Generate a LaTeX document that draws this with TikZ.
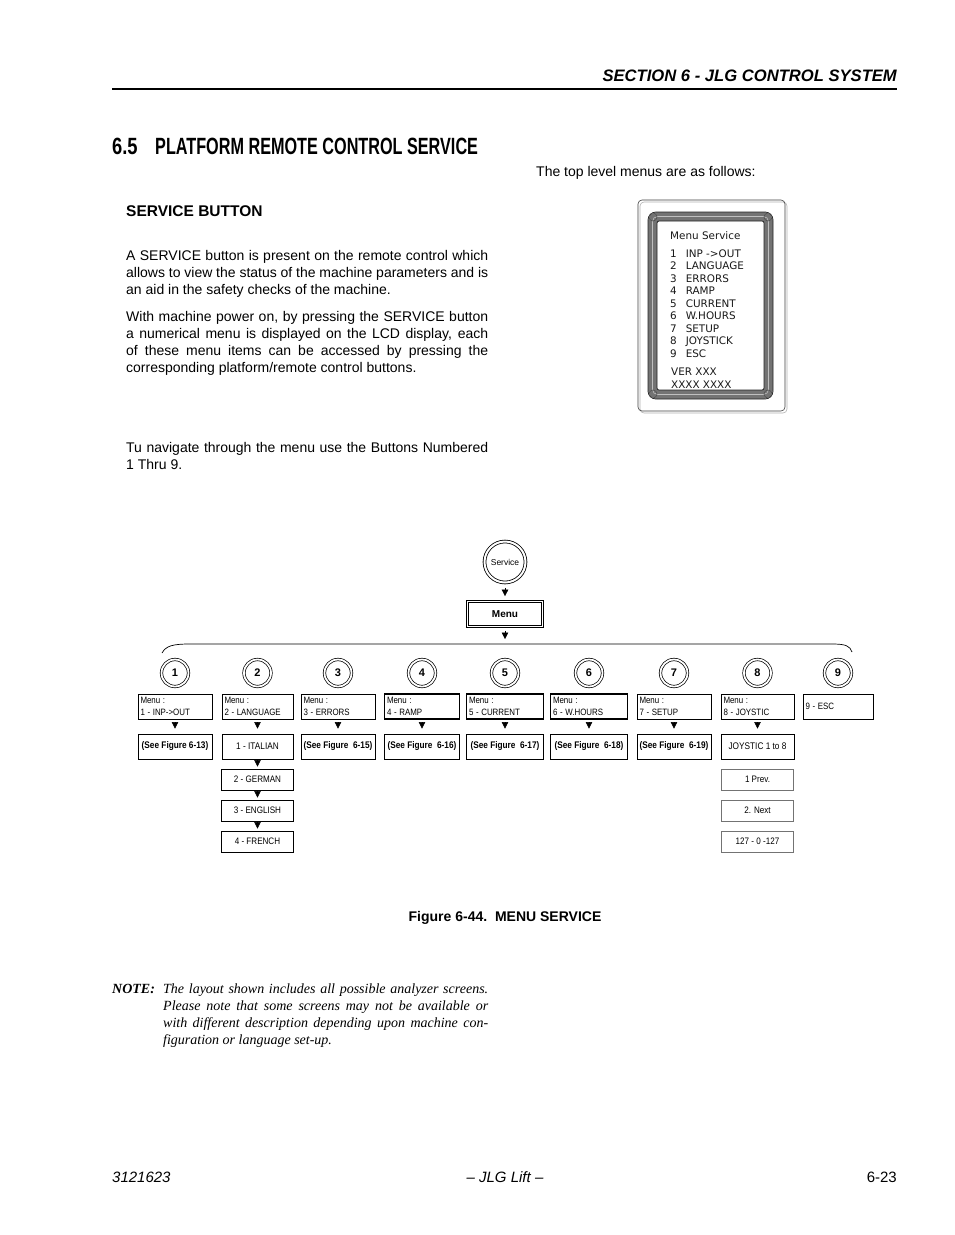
\documentclass[tikz,border=0pt]{standalone}
\usepackage{fontspec}
\setmainfont{Liberation Sans}
\newfontfamily\notefont{Liberation Serif}
\newfontfamily\lcdfont{DejaVu Sans}
\usepackage{graphicx}
\usetikzlibrary{arrows.meta}

\newcommand{\fs}[2]{\fontsize{#1}{#2}\selectfont}
\newcommand{\nar}[1]{\scalebox{0.86}[1]{#1}}
\newcommand{\jst}[1]{\makebox[362pt][s]{#1}}
\newcommand{\njst}[1]{\makebox[325pt][s]{#1}}

\tikzset{
  txt/.style={anchor=base west, inner sep=0pt, font=\fs{14}{17}},
  lcd/.style={anchor=base west, inner sep=0pt, font=\lcdfont\fs{10.4}{12}, text=black!90},
  svc/.style={circle, draw, double, double distance=2pt, line width=0.8pt, minimum size=41pt, inner sep=0pt, font=\fs{8.5}{10}},
  menubox/.style={draw, double, double distance=1.4pt, line width=0.7pt, minimum width=75pt, minimum height=25pt, inner sep=0pt, font=\fs{10}{12}\bfseries},
  btn/.style={circle, draw, double, double distance=1.8pt, line width=0.7pt, minimum size=27pt, inner sep=0pt, font=\fs{11}{13}\bfseries},
  mbox/.style={draw, line width=0.7pt, minimum height=25pt, inner xsep=2pt, inner ysep=0pt, align=left, font=\fs{9.2}{12}},
  mthin/.style={},
  mthick/.style={line width=1.5pt},
  sbox/.style={draw, line width=0.8pt, minimum height=25pt, inner sep=0pt, font=\fs{9.6}{12}},
  lbox/.style={draw, line width=0.8pt, minimum width=72pt, minimum height=21pt, inner sep=0pt, font=\fs{9.4}{12}},
  gbox/.style={draw=black!55},
  tri/.style={-{Triangle[length=6.5pt,width=6.5pt]}, line width=0.5pt},
}

\begin{document}
\begin{tikzpicture}[x=1pt, y=-1pt]
  \useasboundingbox[fill=white] (0,0) rectangle (954,1235);

  % page head
  \node[txt, anchor=base east, font=\fs{16.6}{20}\bfseries\itshape] (head) at (897,81) {SECTION 6 - JLG CONTROL SYSTEM};
  \coordinate (ruleL) at (112,89);
  \coordinate (ruleR) at (897,89);
  \draw[line width=1.2pt] (ruleL) -- (ruleR);

  % section title
  \node[txt, font=\fs{23.5}{26}\bfseries] (secno) at (112,154) {\scalebox{0.78}[1]{6.5}};
  \node[txt, font=\fs{23.5}{26}\bfseries] (sectitle) at (155,154) {\scalebox{0.69}[1]{PLATFORM REMOTE CONTROL SERVICE}};

  % left column
  \node[txt, font=\fs{15.5}{18}\bfseries] (sbtitle) at (126,216) {SERVICE BUTTON};
  \node[txt] (p1a) at (126,260) {\jst{A SERVICE button is present on the remote control which}};
  \node[txt] (p1b) at (126,277) {\jst{allows to view the status of the machine parameters and is}};
  \node[txt] (p1c) at (126,294) {an aid in the safety checks of the machine.};
  \node[txt] (p2a) at (126,321) {\jst{With machine power on, by pressing the SERVICE button}};
  \node[txt] (p2b) at (126,338) {\jst{a numerical menu is displayed on the LCD display, each}};
  \node[txt] (p2c) at (126,355) {\jst{of these menu items can be accessed by pressing the}};
  \node[txt] (p2d) at (126,372) {corresponding platform/remote control buttons.};
  \node[txt] (p3a) at (126,452) {\jst{Tu navigate through the menu use the Buttons Numbered}};
  \node[txt] (p3b) at (126,469) {1 Thru 9.};

  % right column
  \node[txt] (top) at (536,176) {The top level menus are as follows:};

  % lcd picture
  \draw[black!30, line width=0.6pt, rounded corners=4pt] (640,202) rectangle (787,413);
  \draw[black!75, line width=0.6pt, rounded corners=4pt] (638,200) rectangle (785,411);
  \draw[black!55, line width=9pt, rounded corners=5pt] (652.5,216.5) rectangle (768.5,394.5);
  \draw[black!25, line width=0.6pt, rounded corners=5pt] (652.5,216.5) rectangle (768.5,394.5);
  \draw[black!85, line width=0.8pt, rounded corners=8pt] (648,212) rectangle (773,399);
  \draw[black!85, line width=0.8pt, rounded corners=2pt] (657,221) rectangle (764,390);
  \draw[black!70, line width=0.5pt] (653,217) circle (4pt) (768,217) circle (4pt)
        (653,394) circle (4pt) (768,394) circle (4pt);
  \node[lcd] (lcdhead) at (670,239) {Menu Service};
  \node[lcd] (l1) at (670,257) {1\hspace{9pt}INP ->OUT};
  \node[lcd] (l2) at (670,269.5) {2\hspace{9pt}LANGUAGE};
  \node[lcd] (l3) at (670,282) {3\hspace{9pt}ERRORS};
  \node[lcd] (l4) at (670,294.5) {4\hspace{9pt}RAMP};
  \node[lcd] (l5) at (670,307) {5\hspace{9pt}CURRENT};
  \node[lcd] (l6) at (670,319.5) {6\hspace{9pt}W.HOURS};
  \node[lcd] (l7) at (670,332) {7\hspace{9pt}SETUP};
  \node[lcd] (l8) at (670,344.5) {8\hspace{9pt}JOYSTICK};
  \node[lcd] (l9) at (670,357) {9\hspace{9pt}ESC};
  \node[lcd] (ver) at (671,375) {VER XXX};
  \node[lcd] (vnum) at (671,388) {XXXX XXXX};

  % service tree
  \node[svc] (svc) at (505,562) {Service};
  \node[menubox] (menu) at (505,614) {Menu};
  \draw[tri, shorten <=5pt, shorten >=5pt] (svc) -- (menu);

  \coordinate (brk) at (505,644);     % bracket top
  \coordinate (brkL) at (162,653);
  \coordinate (brkR) at (852,652);
  \draw[tri, shorten <=4pt, shorten >=5pt] (menu) -- (brk);
  \draw[line width=0.7pt] (brkL) .. controls (166,646) and (172,644) .. (190,644)
        -- (832,644) .. controls (846,644) and (850,646) .. (brkR);

  \foreach \n/\x/\w/\bw/\lab/\nxt in {
      1/175/74/mthin/INP->OUT/{\textbf{(See Figure 6-13)}},
      2/257.5/71/mthin/LANGUAGE/{1 - ITALIAN},
      3/338/74/mthin/ERRORS/{\textbf{(See Figure\ \ 6-15)}},
      4/422/75/mthick/RAMP/{\textbf{(See Figure\ \ 6-16)}},
      5/505/77/mthick/CURRENT/{\textbf{(See Figure\ \ 6-17)}},
      6/589/77/mthick/W.HOURS/{\textbf{(See Figure\ \ 6-18)}},
      7/674/74/mthin/SETUP/{\textbf{(See Figure\ \ 6-19)}},
      8/757.5/73/mthin/JOYSTIC/{JOYSTIC 1 to 8}}{
    \pgfmathsetmacro{\tw}{\w-5}
    \node[btn] (b\n) at (\x,673) {\n};
    \node[mbox, \bw, minimum width=\w pt, text width=\tw pt] (m\n) at (\x,706.5) {\nar{Menu :}\\\nar{\n{} - \lab}};
    \node[sbox, minimum width=\w pt] (s\n) at (\x,746.5) {\nar{\nxt}};
    \draw[tri, shorten <=4pt, shorten >=5pt] (m\n) -- (s\n);
  }
  \node[btn] (b9) at (838,673) {9};
  \node[mbox, minimum width=70pt, text width=65pt] (m9) at (838,706.5) {\nar{9 - ESC}};

  % language list
  \node[lbox] (ger) at (257.5,779.5) {\nar{2 - GERMAN}};
  \node[lbox] (eng) at (257.5,810.5) {\nar{3 - ENGLISH}};
  \node[lbox] (fre) at (257.5,841.5) {\nar{4 - FRENCH}};
  \draw[tri, shorten <=2pt, shorten >=2pt] (s2) -- (ger);
  \draw[tri, shorten <=2pt, shorten >=2pt] (ger) -- (eng);
  \draw[tri, shorten <=2pt, shorten >=2pt] (eng) -- (fre);

  % joystick list
  \node[lbox, gbox] (prev) at (757.5,779.5) {\nar{1 Prev.}};
  \node[lbox, gbox] (next) at (757.5,810.5) {\nar{2. Next}};
  \node[lbox, gbox] (range) at (757.5,841.5) {\nar{127 - 0 -127}};

  % caption
  \node[txt, anchor=base, font=\fs{14}{17}\bfseries] (cap) at (505,921) {Figure 6-44.\ \ MENU SERVICE};

  % note
  \node[txt, font=\notefont\fs{14}{17}\bfseries\itshape] (note) at (112,993) {NOTE:};
  \node[txt, font=\notefont\fs{14}{17}\itshape] (n1) at (163,993) {\njst{The layout shown includes all possible analyzer screens.}};
  \node[txt, font=\notefont\fs{14}{17}\itshape] (n2) at (163,1010) {\njst{Please note that some screens may not be available or}};
  \node[txt, font=\notefont\fs{14}{17}\itshape] (n3) at (163,1027) {\njst{with different description depending upon machine con-}};
  \node[txt, font=\notefont\fs{14}{17}\itshape] (n4) at (163,1044) {figuration or language set-up.};

  % page foot
  \node[txt, font=\fs{15}{18}\itshape] (docno) at (112,1182) {3121623};
  \node[txt, anchor=base, font=\fs{15}{18}\itshape] (brand) at (505,1182) {\textendash{} JLG Lift \textendash};
  \node[txt, anchor=base east, font=\fs{15}{18}] (pgno) at (897,1182) {6-23};
\end{tikzpicture}
\end{document}
